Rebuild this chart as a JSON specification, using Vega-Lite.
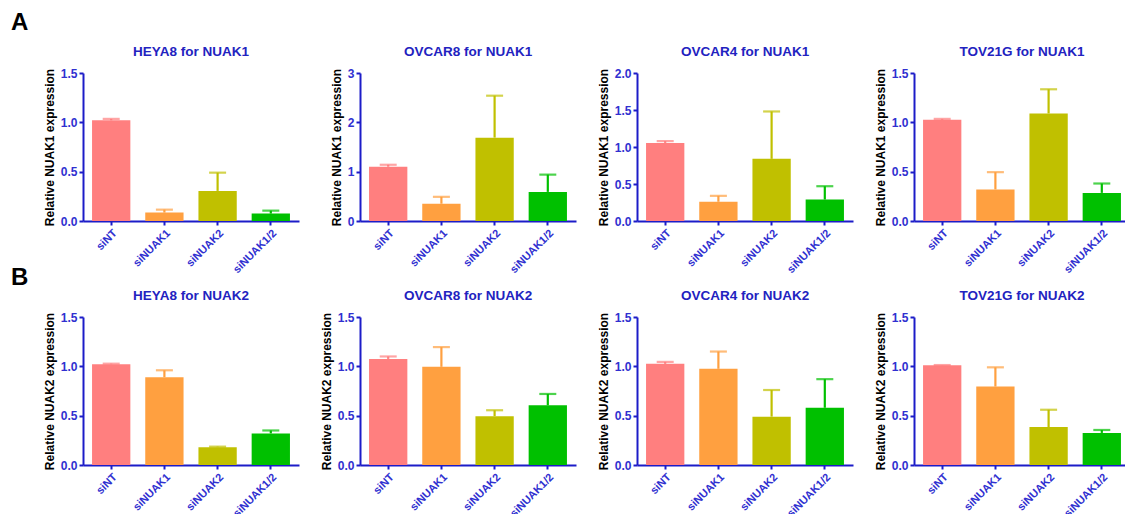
{
  "$schema": "https://vega.github.io/schema/vega-lite/v6.json",
  "background": "white",
  "padding": {"left": 11, "top": 10, "right": 0, "bottom": 0},
  "spacing": -10,
  "data": {"values": [
    {"panel": "A1", "group": "siNT", "value": 1.02, "upper": 1.035},
    {"panel": "A1", "group": "siNUAK1", "value": 0.085, "upper": 0.115},
    {"panel": "A1", "group": "siNUAK2", "value": 0.305, "upper": 0.49},
    {"panel": "A1", "group": "siNUAK1/2", "value": 0.075, "upper": 0.105},
    {"panel": "A2", "group": "siNT", "value": 1.10, "upper": 1.14},
    {"panel": "A2", "group": "siNUAK1", "value": 0.35, "upper": 0.49},
    {"panel": "A2", "group": "siNUAK2", "value": 1.69, "upper": 2.54},
    {"panel": "A2", "group": "siNUAK1/2", "value": 0.59, "upper": 0.94},
    {"panel": "A3", "group": "siNT", "value": 1.055, "upper": 1.08},
    {"panel": "A3", "group": "siNUAK1", "value": 0.26, "upper": 0.34},
    {"panel": "A3", "group": "siNUAK2", "value": 0.84, "upper": 1.48},
    {"panel": "A3", "group": "siNUAK1/2", "value": 0.29, "upper": 0.47},
    {"panel": "A4", "group": "siNT", "value": 1.025, "upper": 1.035},
    {"panel": "A4", "group": "siNUAK1", "value": 0.32, "upper": 0.495},
    {"panel": "A4", "group": "siNUAK2", "value": 1.09, "upper": 1.335},
    {"panel": "A4", "group": "siNUAK1/2", "value": 0.285, "upper": 0.38},
    {"panel": "B1", "group": "siNT", "value": 1.02, "upper": 1.027},
    {"panel": "B1", "group": "siNUAK1", "value": 0.89, "upper": 0.96},
    {"panel": "B1", "group": "siNUAK2", "value": 0.18, "upper": 0.186},
    {"panel": "B1", "group": "siNUAK1/2", "value": 0.32, "upper": 0.35},
    {"panel": "B2", "group": "siNT", "value": 1.075, "upper": 1.10},
    {"panel": "B2", "group": "siNUAK1", "value": 0.995, "upper": 1.195},
    {"panel": "B2", "group": "siNUAK2", "value": 0.495, "upper": 0.555},
    {"panel": "B2", "group": "siNUAK1/2", "value": 0.605, "upper": 0.72},
    {"panel": "B3", "group": "siNT", "value": 1.025, "upper": 1.045},
    {"panel": "B3", "group": "siNUAK1", "value": 0.975, "upper": 1.15},
    {"panel": "B3", "group": "siNUAK2", "value": 0.49, "upper": 0.76},
    {"panel": "B3", "group": "siNUAK1/2", "value": 0.58, "upper": 0.87},
    {"panel": "B4", "group": "siNT", "value": 1.01, "upper": 1.013},
    {"panel": "B4", "group": "siNUAK1", "value": 0.795, "upper": 0.99},
    {"panel": "B4", "group": "siNUAK2", "value": 0.385, "upper": 0.56},
    {"panel": "B4", "group": "siNUAK1/2", "value": 0.325, "upper": 0.355}
  ]},
  "vconcat": [
    {
      "title": {"text": "A", "fontSize": 24, "color": "black", "anchor": "start", "frame": "group", "dx": -72, "offset": 10},
      "bounds": "flush",
      "spacing": 61,
      "hconcat": [
        {"width": 216, "height": 148, "title": "HEYA8 for NUAK1",
         "transform": [{"filter": "datum.panel === 'A1'"}],
         "encoding": {"x": {"field": "group", "type": "nominal", "scale": {"domain": ["siNT", "siNUAK1", "siNUAK2", "siNUAK1/2"]}},
                      "color": {"field": "group", "type": "nominal", "legend": null, "scale": {"domain": ["siNT", "siNUAK1", "siNUAK2", "siNUAK1/2"], "range": ["#FF7F7F", "#FFA040", "#C0C000", "#00C000"]}}},
         "layer": [
           {"mark": {"type": "bar"}, "encoding": {"y": {"field": "value", "type": "quantitative", "scale": {"domain": [0, 1.5], "nice": false}, "axis": {"values": [0, 0.5, 1, 1.5], "format": ".1f", "title": "Relative NUAK1 expression"}}}},
           {"mark": {"type": "rule", "strokeWidth": 2.2}, "encoding": {"y": {"field": "value", "type": "quantitative"}, "y2": {"field": "upper"}}},
           {"mark": {"type": "tick", "thickness": 2.2, "size": 17}, "encoding": {"y": {"field": "upper", "type": "quantitative"}}}
         ]},
        {"width": 216, "height": 148, "title": "OVCAR8 for NUAK1",
         "transform": [{"filter": "datum.panel === 'A2'"}],
         "encoding": {"x": {"field": "group", "type": "nominal", "scale": {"domain": ["siNT", "siNUAK1", "siNUAK2", "siNUAK1/2"]}},
                      "color": {"field": "group", "type": "nominal", "legend": null, "scale": {"domain": ["siNT", "siNUAK1", "siNUAK2", "siNUAK1/2"], "range": ["#FF7F7F", "#FFA040", "#C0C000", "#00C000"]}}},
         "layer": [
           {"mark": {"type": "bar"}, "encoding": {"y": {"field": "value", "type": "quantitative", "scale": {"domain": [0, 3], "nice": false}, "axis": {"values": [0, 1, 2, 3], "format": "d", "title": "Relative NUAK1 expression"}}}},
           {"mark": {"type": "rule", "strokeWidth": 2.2}, "encoding": {"y": {"field": "value", "type": "quantitative"}, "y2": {"field": "upper"}}},
           {"mark": {"type": "tick", "thickness": 2.2, "size": 17}, "encoding": {"y": {"field": "upper", "type": "quantitative"}}}
         ]},
        {"width": 216, "height": 148, "title": "OVCAR4 for NUAK1",
         "transform": [{"filter": "datum.panel === 'A3'"}],
         "encoding": {"x": {"field": "group", "type": "nominal", "scale": {"domain": ["siNT", "siNUAK1", "siNUAK2", "siNUAK1/2"]}},
                      "color": {"field": "group", "type": "nominal", "legend": null, "scale": {"domain": ["siNT", "siNUAK1", "siNUAK2", "siNUAK1/2"], "range": ["#FF7F7F", "#FFA040", "#C0C000", "#00C000"]}}},
         "layer": [
           {"mark": {"type": "bar"}, "encoding": {"y": {"field": "value", "type": "quantitative", "scale": {"domain": [0, 2], "nice": false}, "axis": {"tickCount": 4, "labelOverlap": false, "format": ".1f", "title": "Relative NUAK1 expression"}}}},
           {"mark": {"type": "rule", "strokeWidth": 2.2}, "encoding": {"y": {"field": "value", "type": "quantitative"}, "y2": {"field": "upper"}}},
           {"mark": {"type": "tick", "thickness": 2.2, "size": 17}, "encoding": {"y": {"field": "upper", "type": "quantitative"}}}
         ]},
        {"width": 216, "height": 148, "title": "TOV21G for NUAK1",
         "transform": [{"filter": "datum.panel === 'A4'"}],
         "encoding": {"x": {"field": "group", "type": "nominal", "scale": {"domain": ["siNT", "siNUAK1", "siNUAK2", "siNUAK1/2"]}},
                      "color": {"field": "group", "type": "nominal", "legend": null, "scale": {"domain": ["siNT", "siNUAK1", "siNUAK2", "siNUAK1/2"], "range": ["#FF7F7F", "#FFA040", "#C0C000", "#00C000"]}}},
         "layer": [
           {"mark": {"type": "bar"}, "encoding": {"y": {"field": "value", "type": "quantitative", "scale": {"domain": [0, 1.5], "nice": false}, "axis": {"values": [0, 0.5, 1, 1.5], "format": ".1f", "title": "Relative NUAK1 expression"}}}},
           {"mark": {"type": "rule", "strokeWidth": 2.2}, "encoding": {"y": {"field": "value", "type": "quantitative"}, "y2": {"field": "upper"}}},
           {"mark": {"type": "tick", "thickness": 2.2, "size": 17}, "encoding": {"y": {"field": "upper", "type": "quantitative"}}}
         ]}
      ]
    },
    {
      "title": {"text": "B", "fontSize": 24, "color": "black", "anchor": "start", "frame": "group", "dx": -72, "offset": -1},
      "bounds": "flush",
      "spacing": 61,
      "hconcat": [
        {"width": 216, "height": 148, "title": "HEYA8 for NUAK2",
         "transform": [{"filter": "datum.panel === 'B1'"}],
         "encoding": {"x": {"field": "group", "type": "nominal", "scale": {"domain": ["siNT", "siNUAK1", "siNUAK2", "siNUAK1/2"]}},
                      "color": {"field": "group", "type": "nominal", "legend": null, "scale": {"domain": ["siNT", "siNUAK1", "siNUAK2", "siNUAK1/2"], "range": ["#FF7F7F", "#FFA040", "#C0C000", "#00C000"]}}},
         "layer": [
           {"mark": {"type": "bar"}, "encoding": {"y": {"field": "value", "type": "quantitative", "scale": {"domain": [0, 1.5], "nice": false}, "axis": {"values": [0, 0.5, 1, 1.5], "format": ".1f", "title": "Relative NUAK2 expression"}}}},
           {"mark": {"type": "rule", "strokeWidth": 2.2}, "encoding": {"y": {"field": "value", "type": "quantitative"}, "y2": {"field": "upper"}}},
           {"mark": {"type": "tick", "thickness": 2.2, "size": 17}, "encoding": {"y": {"field": "upper", "type": "quantitative"}}}
         ]},
        {"width": 216, "height": 148, "title": "OVCAR8 for NUAK2",
         "transform": [{"filter": "datum.panel === 'B2'"}],
         "encoding": {"x": {"field": "group", "type": "nominal", "scale": {"domain": ["siNT", "siNUAK1", "siNUAK2", "siNUAK1/2"]}},
                      "color": {"field": "group", "type": "nominal", "legend": null, "scale": {"domain": ["siNT", "siNUAK1", "siNUAK2", "siNUAK1/2"], "range": ["#FF7F7F", "#FFA040", "#C0C000", "#00C000"]}}},
         "layer": [
           {"mark": {"type": "bar"}, "encoding": {"y": {"field": "value", "type": "quantitative", "scale": {"domain": [0, 1.5], "nice": false}, "axis": {"values": [0, 0.5, 1, 1.5], "format": ".1f", "title": "Relative NUAK2 expression"}}}},
           {"mark": {"type": "rule", "strokeWidth": 2.2}, "encoding": {"y": {"field": "value", "type": "quantitative"}, "y2": {"field": "upper"}}},
           {"mark": {"type": "tick", "thickness": 2.2, "size": 17}, "encoding": {"y": {"field": "upper", "type": "quantitative"}}}
         ]},
        {"width": 216, "height": 148, "title": "OVCAR4 for NUAK2",
         "transform": [{"filter": "datum.panel === 'B3'"}],
         "encoding": {"x": {"field": "group", "type": "nominal", "scale": {"domain": ["siNT", "siNUAK1", "siNUAK2", "siNUAK1/2"]}},
                      "color": {"field": "group", "type": "nominal", "legend": null, "scale": {"domain": ["siNT", "siNUAK1", "siNUAK2", "siNUAK1/2"], "range": ["#FF7F7F", "#FFA040", "#C0C000", "#00C000"]}}},
         "layer": [
           {"mark": {"type": "bar"}, "encoding": {"y": {"field": "value", "type": "quantitative", "scale": {"domain": [0, 1.5], "nice": false}, "axis": {"values": [0, 0.5, 1, 1.5], "format": ".1f", "title": "Relative NUAK2 expression"}}}},
           {"mark": {"type": "rule", "strokeWidth": 2.2}, "encoding": {"y": {"field": "value", "type": "quantitative"}, "y2": {"field": "upper"}}},
           {"mark": {"type": "tick", "thickness": 2.2, "size": 17}, "encoding": {"y": {"field": "upper", "type": "quantitative"}}}
         ]},
        {"width": 216, "height": 148, "title": "TOV21G for NUAK2",
         "transform": [{"filter": "datum.panel === 'B4'"}],
         "encoding": {"x": {"field": "group", "type": "nominal", "scale": {"domain": ["siNT", "siNUAK1", "siNUAK2", "siNUAK1/2"]}},
                      "color": {"field": "group", "type": "nominal", "legend": null, "scale": {"domain": ["siNT", "siNUAK1", "siNUAK2", "siNUAK1/2"], "range": ["#FF7F7F", "#FFA040", "#C0C000", "#00C000"]}}},
         "layer": [
           {"mark": {"type": "bar"}, "encoding": {"y": {"field": "value", "type": "quantitative", "scale": {"domain": [0, 1.5], "nice": false}, "axis": {"values": [0, 0.5, 1, 1.5], "format": ".1f", "title": "Relative NUAK2 expression"}}}},
           {"mark": {"type": "rule", "strokeWidth": 2.2}, "encoding": {"y": {"field": "value", "type": "quantitative"}, "y2": {"field": "upper"}}},
           {"mark": {"type": "tick", "thickness": 2.2, "size": 17}, "encoding": {"y": {"field": "upper", "type": "quantitative"}}}
         ]}
      ]
    }
  ],
  "config": {
    "font": "Liberation Sans",
    "view": {"stroke": null},
    "scale": {"bandPaddingInner": 0.28, "bandPaddingOuter": 0.17},
    "axis": {"grid": false, "domainColor": "#1c1cc8", "domainWidth": 2, "tickColor": "#1c1cc8", "tickWidth": 2, "tickSize": 4,
             "labelColor": "#3030d0", "labelFont": "Liberation Sans", "labelFontWeight": "bold", "labelFontSize": 12, "labelPadding": 2,
             "titleFont": "Liberation Sans", "titleFontWeight": "bold", "titleFontSize": 12, "titleColor": "black", "titlePadding": 4},
    "axisY": {"labelOverlap": false},
    "axisX": {"labelAngle": -45, "title": null, "labelFontSize": 11},
    "title": {"font": "Liberation Sans", "fontSize": 13.5, "fontWeight": "bold", "color": "#2222c0", "offset": 9}
  }
}
